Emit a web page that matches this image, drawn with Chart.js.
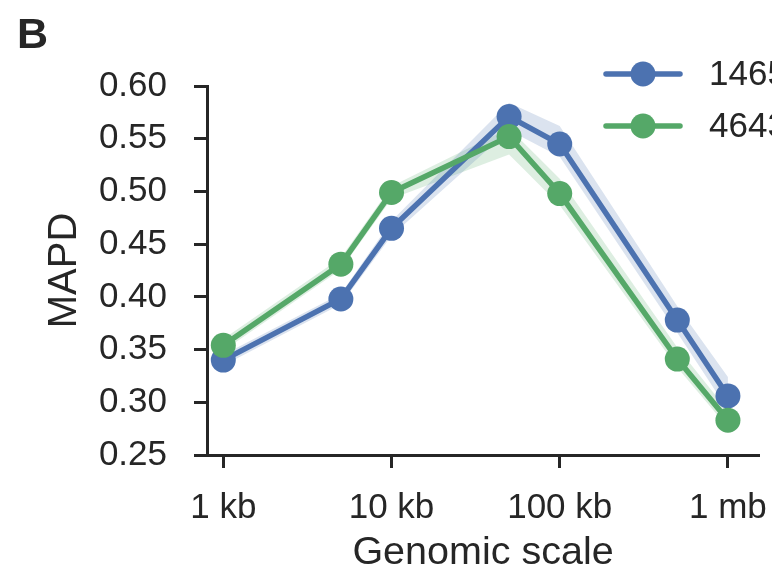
<!DOCTYPE html>
<html>
<head>
<meta charset="utf-8">
<script src="https://cdn.jsdelivr.net/npm/chart.js@4/dist/chart.umd.min.js"></script>
<style>
  html, body { margin: 0; padding: 0; background: #ffffff; }
  #wrap { width: 772px; height: 574px; position: relative; }
</style>
</head>
<body>
<div id="wrap"><canvas id="c" width="772" height="574"></canvas></div>
<script>
// ---- data ----
const scalesBp = [1000, 5000, 10000, 50000, 100000, 500000, 1000000];
const xTickValues = [1000, 10000, 100000, 1000000];
const xTickLabels = ['1 kb', '10 kb', '100 kb', '1 mb'];
const seriesNames = ['1465', '4643'];

const blueMapd = [0.340, 0.398, 0.465, 0.571, 0.545, 0.378, 0.306];
const blueLow  = [0.335, 0.393, 0.458, 0.558, 0.533, 0.366, 0.293];
const blueHigh = [0.345, 0.403, 0.472, 0.584, 0.562, 0.391, 0.324];

const greenMapd = [0.354, 0.431, 0.499, 0.552, 0.498, 0.341, 0.283];
const greenLow  = [0.349, 0.426, 0.493, 0.535, 0.487, 0.333, 0.276];
const greenHigh = [0.360, 0.437, 0.505, 0.560, 0.512, 0.352, 0.292];

// ---- styling ----
const FONT = "'Liberation Sans', Arial, sans-serif";
const INK = '#262626';
const BLUE = '#4C72B0';
const GREEN = '#55A868';
const BLUE_BAND = 'rgba(76,114,176,0.2)';
const GREEN_BAND = 'rgba(85,168,104,0.2)';

const pts = arr => scalesBp.map((x, i) => ({ x: x, y: arr[i] }));

function band(arr, color, fill) {
  return { data: pts(arr), borderWidth: 0, pointRadius: 0, backgroundColor: color,
           borderColor: 'rgba(0,0,0,0)', fill: fill, order: 10, tension: 0 };
}
function main(name, arr, color, order) {
  return { label: name, data: pts(arr), isMain: true, borderColor: color, backgroundColor: color,
           borderWidth: 5.5, pointRadius: 12.5, pointHoverRadius: 12.5, pointBorderWidth: 0,
           pointBackgroundColor: color, fill: false, order: order, tension: 0, clip: false };
}

const datasets = [
  band(blueLow, BLUE_BAND, false),
  band(blueHigh, BLUE_BAND, '-1'),
  band(greenLow, GREEN_BAND, false),
  band(greenHigh, GREEN_BAND, '-1'),
  main(seriesNames[0], blueMapd, BLUE, 2),
  main(seriesNames[1], greenMapd, GREEN, 1)
];

const extras = {
  id: 'extras',
  afterDraw(chart) {
    const ctx = chart.ctx;
    ctx.save();
    // panel letter
    ctx.fillStyle = INK;
    ctx.font = "bold 43px " + FONT;
    ctx.textBaseline = 'alphabetic';
    ctx.textAlign = 'left';
    ctx.fillText('B', 17, 48);
    // legend
    const mains = chart.data.datasets.filter(d => d.isMain);
    mains.forEach((d, i) => {
      const y = 74 + i * 52;
      ctx.strokeStyle = d.borderColor;
      ctx.lineWidth = 5.5;
      ctx.lineCap = 'round';
      ctx.beginPath(); ctx.moveTo(606, y); ctx.lineTo(680, y); ctx.stroke();
      ctx.fillStyle = d.borderColor;
      ctx.beginPath(); ctx.arc(643, y, 12.5, 0, Math.PI * 2); ctx.fill();
      ctx.fillStyle = INK;
      ctx.font = "35px " + FONT;
      ctx.textBaseline = 'middle';
      ctx.fillText(d.label, 709, y + 1);
    });
    ctx.restore();
  }
};

new Chart(document.getElementById('c'), {
  type: 'line',
  data: { datasets: datasets },
  plugins: [extras],
  options: {
    responsive: false,
    animation: false,
    events: [],
    layout: { padding: { left: 0, right: 13, top: 86, bottom: 0 } },
    plugins: {
      legend: { display: false },
      tooltip: { enabled: false },
      filler: { propagate: false }
    },
    scales: {
      x: {
        type: 'logarithmic',
        min: 800,
        max: 1530000,
        afterBuildTicks: s => { s.ticks = xTickValues.map(v => ({ value: v })); },
        afterFit: s => { s.height = 119; s.paddingLeft = 0; s.paddingRight = 0; },
        ticks: {
          autoSkip: false, maxRotation: 0, minRotation: 0,
          color: INK, font: { family: FONT, size: 35 }, padding: 19,
          callback: (v) => { const i = xTickValues.indexOf(v); return i >= 0 ? xTickLabels[i] : ''; }
        },
        grid: { drawOnChartArea: false, drawTicks: true, tickLength: 13, tickWidth: 3, tickColor: INK },
        border: { display: true, color: INK, width: 3 },
        title: { display: true, text: 'Genomic scale', color: INK,
                 font: { family: FONT, size: 39.5, lineHeight: 1 }, padding: { top: 0, bottom: 1.5 } }
      },
      y: {
        min: 0.25,
        max: 0.60,
        afterFit: s => { s.width = 207; s.paddingTop = 0; s.paddingBottom = 0; },
        ticks: {
          stepSize: 0.05, color: INK, font: { family: FONT, size: 35 }, padding: 27,
          callback: v => Number(v).toFixed(2)
        },
        grid: { drawOnChartArea: false, drawTicks: true, tickLength: 13, tickWidth: 3, tickColor: INK },
        border: { display: true, color: INK, width: 3 },
        title: { display: true, text: 'MAPD', color: INK,
                 font: { family: FONT, size: 40, lineHeight: 1 }, padding: { top: 45, bottom: 0 } }
      }
    }
  }
});
</script>
</body>
</html>
